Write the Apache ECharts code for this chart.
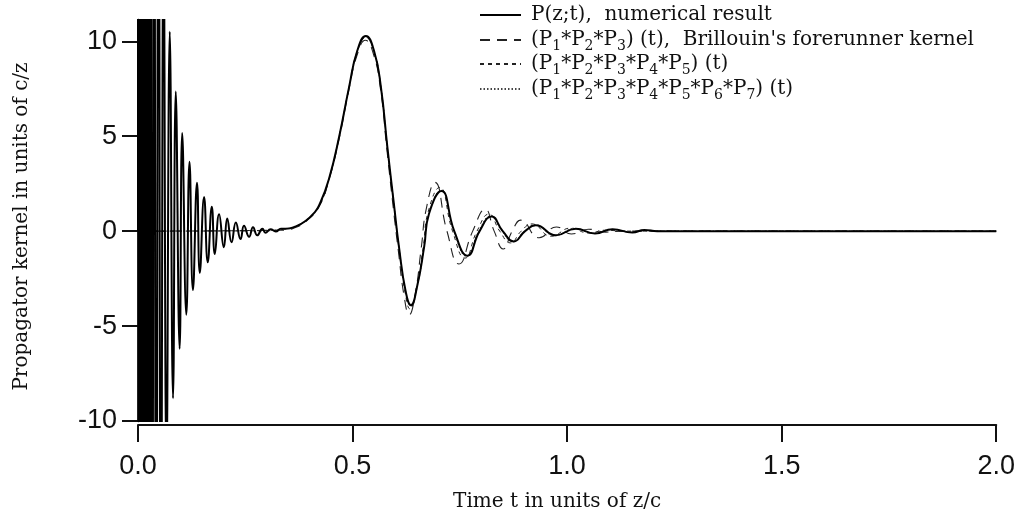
<!DOCTYPE html>
<html>
<head>
<meta charset="utf-8">
<script src="https://cdn.jsdelivr.net/npm/echarts@6/dist/echarts.min.js"></script>
<style>
html,body{margin:0;padding:0;background:#fff;}
#chart{width:1018px;height:517px;}
</style>
</head>
<body>
<div id="chart"></div>
<script>
// ---- data ----
const seriesNames = [
  "P(z;t),  numerical result",
  "(P1*P2*P3) (t),  Brillouin's forerunner kernel",
  "(P1*P2*P3*P4*P5) (t)",
  "(P1*P2*P3*P4*P5*P6*P7) (t)"
];
const xTicks = [0, 0.5, 1.0, 1.5, 2.0];
const yTicks = [-10, -5, 0, 5, 10];

// numerical result (solid); early extrema are clipped off the plot, values estimated
const tNum = [0, 0.0004, 0.0014, 0.0027, 0.0042, 0.0059, 0.0078, 0.0100, 0.0124, 0.0151, 0.0181, 0.0214, 0.0250, 0.0289, 0.0331, 0.0376, 0.0425, 0.0478, 0.0535, 0.0596, 0.0664,
  0.0740, 0.0816, 0.0880, 0.0970, 0.1030, 0.1126, 0.1200, 0.1280, 0.1375, 0.1440, 0.1540, 0.1625, 0.1720, 0.1790, 0.1890, 0.2000, 0.2080, 0.2180, 0.2280, 0.2390, 0.2470,
  0.2590, 0.2680, 0.2780, 0.2900, 0.2970, 0.3090, 0.3210, 0.3330, 0.3440, 0.3680, 0.3910, 0.4100, 0.4220, 0.4450, 0.4690, 0.4920, 0.5110, 0.5310, 0.5500, 0.5660, 0.5810,
  0.5970, 0.6080, 0.6240, 0.6360, 0.6510, 0.6670, 0.6780, 0.7070, 0.7370, 0.7680, 0.7960, 0.8240, 0.8500, 0.8760, 0.9020, 0.9270, 0.9740, 1.0200, 1.0650, 1.1060, 1.1520,
  1.1800, 1.2100, 1.3000, 2.0000];
const pNum = [0, 40, -40, 40, -40, 40, -40, 40, -40, 40, -38, 36, -34, 32, -30, 28, -26, 24, -20, 16, -12.5,
  10.5, -8.8, 7.35, -6.2, 5.17, -4.4, 3.65, -3.1, 2.55, -2.2, 1.8, -1.64, 1.29, -1.2, 0.89, -0.85, 0.66, -0.59, 0.45, -0.42, 0.28,
  -0.3, 0.2, -0.22, 0.12, -0.08, 0.1, -0.02, 0.12, 0.12, 0.25, 0.55, 0.95, 1.35, 2.75, 5.0, 7.6, 9.5, 10.28, 9.5, 7.6, 4.45,
  1.3, -0.8, -3.2, -3.9, -2.85, -0.8, 0.9, 2.11, 0, -1.29, 0, 0.77, 0, -0.54, 0, 0.31, -0.22, 0.13, -0.12, 0.1, -0.07,
  0.06, 0, 0, 0];

// Brillouin's forerunner kernel (long dash)
const tB3 = [0, 0.3400, 0.3680, 0.3910, 0.4220, 0.4450, 0.4690, 0.4920, 0.5110, 0.5300, 0.5490, 0.5650, 0.5800, 0.5960, 0.6070, 0.6200, 0.6320, 0.6460, 0.6600, 0.6720,
  0.6920, 0.7200, 0.7480, 0.7800, 0.8090, 0.8300, 0.8510, 0.8720, 0.8920, 0.9350, 0.9750, 1.0100, 1.0500, 1.0900, 1.1300, 2.0000];
const pB3 = [0, 0.05, 0.2, 0.5, 1.3, 2.7, 4.9, 7.5, 9.3, 10.05, 9.3, 7.5, 4.3, 1.0, -1.1, -3.4, -4.4, -3.3, -0.9, 1.2,
  2.57, 0, -1.73, 0, 1.15, 0, -0.94, 0, 0.58, -0.35, 0.22, -0.15, 0.1, -0.05, 0, 0];

// P1*...*P5 (short dash)
const tB5 = [0, 0.3000, 0.3440, 0.3680, 0.3910, 0.4220, 0.4450, 0.4690, 0.4920, 0.5110, 0.5310, 0.5500, 0.5660, 0.5810, 0.5970, 0.6080, 0.6230, 0.6340, 0.6490, 0.6650,
  0.6760, 0.7030, 0.7330, 0.7620, 0.7900, 0.8180, 0.8430, 0.8680, 0.8930, 0.9180, 0.9630, 1.0080, 1.0500, 1.0900, 1.1300, 2.0000];
const pB5 = [0, 0.02, 0.12, 0.25, 0.55, 1.35, 2.75, 5.0, 7.6, 9.45, 10.2, 9.45, 7.55, 4.4, 1.2, -0.9, -3.3, -4.1, -3.0, -0.8,
  1.0, 2.3, 0, -1.42, 0, 0.9, 0, -0.62, 0, 0.38, -0.27, 0.16, -0.1, 0.05, 0, 0];

// P1*...*P7 (dotted)
const tB7 = [0, 0.3000, 0.3440, 0.3680, 0.3910, 0.4220, 0.4450, 0.4690, 0.4920, 0.5110, 0.5310, 0.5500, 0.5660, 0.5810, 0.5970, 0.6080, 0.6240, 0.6360, 0.6510, 0.6670,
  0.6780, 0.7060, 0.7360, 0.7660, 0.7940, 0.8220, 0.8480, 0.8740, 0.9000, 0.9250, 0.9710, 1.0170, 1.0620, 1.1040, 1.1500, 1.1900, 1.2300, 2.0000];
const pB7 = [0, 0.03, 0.13, 0.25, 0.55, 1.35, 2.75, 5.0, 7.6, 9.5, 10.25, 9.5, 7.6, 4.45, 1.3, -0.8, -3.2, -3.95, -2.9, -0.8,
  0.9, 2.15, 0, -1.33, 0, 0.8, 0, -0.56, 0, 0.34, -0.24, 0.14, -0.11, 0.09, -0.06, 0.04, 0, 0];

// ---- build chart ----
function zip(t, p) { return t.map((v, i) => [v, p[i]]); }

const SERIF = "'DejaVu Serif', serif";
const SANS = "'Liberation Sans', Arial, sans-serif";
const INK = '#111';

const richStyles = {
  n: { fontFamily: SERIF, fontSize: 20, color: INK },
  s: { fontFamily: SERIF, fontSize: 14, color: INK, padding: [12, 0, 0, 0] }
};
function richName(name) {
  let out = '';
  let buf = '';
  for (let i = 0; i < name.length; i++) {
    const c = name[i];
    if (/[0-9]/.test(c) && i > 0 && name[i - 1] === 'P') {
      if (buf) { out += '{n|' + buf + '}'; buf = ''; }
      out += '{s|' + c + '}';
    } else {
      buf += c;
    }
  }
  if (buf) out += '{n|' + buf + '}';
  return out;
}

const legendTops = [5, 30, 54, 79];
const legends = seriesNames.map((nm, i) => ({
  data: [nm],
  left: 479,
  top: legendTops[i],
  orient: 'vertical',
  itemWidth: 41,
  itemHeight: 14,
  padding: 0,
  selectedMode: false,
  itemStyle: { opacity: 0, color: 'transparent', borderWidth: 0 },
  textStyle: { fontFamily: SERIF, fontSize: 20, color: INK, rich: richStyles, padding: [0, 0, 0, 5] },
  formatter: (name) => richName(name)
}));

const lineStyles = [
  { color: '#000', width: 2, type: 'solid' },
  { color: '#222', width: 1.1, type: [10, 7] },
  { color: '#222', width: 1, type: [4, 4] },
  { color: '#444', width: 1, type: [1.5, 2] }
];
const datas = [zip(tNum, pNum), zip(tB3, pB3), zip(tB5, pB5), zip(tB7, pB7)];

const series = seriesNames.map((nm, i) => ({
  name: nm,
  type: 'line',
  data: datas[i],
  symbol: 'none',
  smooth: 0.5,
  clip: true,
  z: i === 0 ? 4 : 3 - (i - 1) * 0.1,
  lineStyle: lineStyles[i],
  itemStyle: { color: lineStyles[i].color },
  animation: false
}));

const chart = echarts.init(document.getElementById('chart'), null, { renderer: 'canvas' });
chart.setOption({
  animation: false,
  backgroundColor: '#fff',
  grid: { left: 138, right: 21.5, top: 20, bottom: 92.5, containLabel: false },
  legend: legends,
  xAxis: {
    type: 'value',
    min: 0, max: 2, interval: 0.5,
    offset: 4,
    splitLine: { show: false },
    axisLine: { show: true, onZero: false, lineStyle: { color: INK, width: 2 } },
    axisTick: { show: true, length: 17, lineStyle: { color: INK, width: 2 }, customValues: xTicks },
    axisLabel: { color: INK, fontFamily: SANS, fontSize: 27, margin: 28, customValues: xTicks,
      formatter: (v) => v.toFixed(1) },
    name: 'Time t in units of z/c',
    nameLocation: 'middle',
    nameGap: 67,
    nameTextStyle: { fontFamily: SERIF, fontSize: 20, color: INK, padding: [0, 20, 0, 0] }
  },
  yAxis: {
    type: 'value',
    min: -10, max: 11.12,
    splitLine: { show: false },
    axisLine: { show: true, onZero: false, lineStyle: { color: INK, width: 2.5 } },
    axisTick: { show: true, length: 16, lineStyle: { color: INK, width: 2 }, customValues: yTicks },
    axisLabel: { color: INK, fontFamily: SANS, fontSize: 27, margin: 21, customValues: yTicks },
    name: 'Propagator kernel in units of c/z',
    nameLocation: 'middle',
    nameRotate: 90,
    nameGap: 106,
    nameTextStyle: { fontFamily: SERIF, fontSize: 20, color: INK, padding: [0, 12, 0, 0] }
  },
  series: series
});
</script>
</body>
</html>
